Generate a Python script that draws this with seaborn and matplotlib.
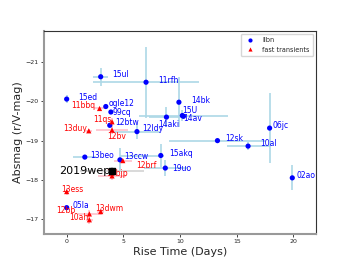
import pandas as pd
import seaborn as sns
import matplotlib.pyplot as plt

# llbn sample
lbn_names = ['15ul', '11rfh', '15ed', 'ogle12', '99cq', '12btw', '14aki', '12ldy', '14bk', '15U',
             '14av', '06jc', '12sk', '10al', '13beo', '13ccw', '15akq', '19uo', '02ao', '05la']
lbn_rise = [3.0, 7.0, 0.0, 3.45, 3.9, 3.8, 8.8, 6.2, 9.9, 10.2,
            10.3, 17.9, 13.3, 16.0, 1.6, 4.7, 8.3, 8.7, 19.9, 0.0]
lbn_mag = [-20.63, -20.49, -20.06, -19.87, -19.73, -19.39, -19.60, -19.23, -19.98, -19.64,
           -19.62, -19.32, -19.00, -18.86, -18.58, -18.51, -18.62, -18.30, -18.05, -17.29]
lbn_xlo = [0.65, 4.7, 0, 0, 0, 0, 1.5, 2.0, 0, 0, 3.9, 0, 4.3, 1.9, 1.0, 0, 3.6, 1.9, 0, 0]
lbn_xhi = [0.65, 4.7, 0, 0, 0, 0, 1.5, 2.0, 0, 0, 3.9, 0, 4.3, 1.9, 1.0, 0, 0.3, 1.9, 0, 0]
lbn_yerr = [0.23, 0.9, 0.1, 0, 0, 0, 0.26, 0.2, 0.64, 0.15, 0, 0.9, 0, 0.1, 0, 0.3, 0.3, 0.2, 0.32, 0.05]

# fast transients
ft_names = ['11bbq', '11qs', '13duy', '12bv', '12brf', '10bjp', '13ess', '12bb', '13dwm', '10ah']
ft_rise = [2.9, 4.0, 1.95, 4.0, 4.95, 4.0, 0.0, 2.0, 3.0, 2.0]
ft_mag = [-19.82, -19.48, -19.25, -19.27, -18.49, -18.10, -17.70, -17.13, -17.19, -16.98]
ft_xerr = [0.5, 0.2, 0.3, 1.4, 0.8, 1.2, 0, 1.0, 0.3, 0.3]
ft_yerr = [0.05, 0.1, 0.05, 0.1, 0.05, 0.1, 0.1, 0.1, 0.1, 0.1]

# SN 2019wep
wep_rise = [4.0]
wep_mag = [-18.23]
wep_xerr = [2.8]
wep_yerr = [0.1]

# label offsets in pixels (dx, dy up, ha)
lbn_off = [(12, 2, 'left'), (12, 2, 'left'), (12, 2, 'left'), (3, 3, 'left'), (2, 0, 'left'),
           (5, 3, 'left'), (-8, -7, 'left'), (5, 3, 'left'), (12, 2, 'left'), (0, 5, 'left'),
           (0, -2, 'left'), (3, 3, 'left'), (8, 2, 'left'), (12, 3, 'left'), (5, 2, 'left'),
           (4, 3, 'left'), (8, 2, 'left'), (7, 0, 'left'), (4, 2, 'left'), (6, 2, 'left')]
ft_off = [(-4, 3, 'right'), (0, 2, 'right'), (-2, 2, 'right'), (-5, -6, 'left'), (13, -5, 'left'),
          (-6, 2, 'left'), (-5, 2, 'left'), (-14, 3, 'right'), (-5, 3, 'left'), (-1, 2, 'right')]

sns.set_style('ticks')
fig, ax = plt.subplots(figsize=(3.52, 2.64), dpi=100)
fig.subplots_adjust(left=0.125, right=0.898, top=0.883, bottom=0.114)

ax.errorbar(lbn_rise, lbn_mag, xerr=[lbn_xlo, lbn_xhi], yerr=lbn_yerr, fmt='none',
            ecolor='lightblue', elinewidth=1.2, zorder=1)
ax.errorbar(ft_rise, ft_mag, xerr=ft_xerr, yerr=ft_yerr, fmt='none',
            ecolor='pink', elinewidth=1.2, zorder=1)
ax.errorbar(wep_rise, wep_mag, xerr=wep_xerr, yerr=wep_yerr, fmt='none',
            ecolor='lightgray', elinewidth=1.2, zorder=1)

df = pd.DataFrame({'rise': lbn_rise + ft_rise, 'mag': lbn_mag + ft_mag,
                   'group': ['llbn'] * len(lbn_rise) + ['fast transients'] * len(ft_rise)})
sns.scatterplot(data=df, x='rise', y='mag', hue='group', style='group',
                markers={'llbn': 'o', 'fast transients': '^'},
                palette={'llbn': 'blue', 'fast transients': 'red'},
                s=14, linewidth=0, ax=ax, zorder=3)
ax.scatter(wep_rise, wep_mag, marker='s', color='black', s=22, zorder=4)

for n, x, y, o in zip(lbn_names, lbn_rise, lbn_mag, lbn_off):
    ax.annotate(n, (x, y), xytext=(o[0], o[1]), textcoords='offset pixels',
                ha=o[2], va='center', color='blue', fontsize=5.5)
for n, x, y, o in zip(ft_names, ft_rise, ft_mag, ft_off):
    ax.annotate(n, (x, y), xytext=(o[0], o[1]), textcoords='offset pixels',
                ha=o[2], va='center', color='red', fontsize=5.5)
ax.annotate('2019wep', (wep_rise[0], wep_mag[0]), xytext=(-2, 0), textcoords='offset pixels',
            ha='right', va='center', color='black', fontsize=8)

ax.set_xlim(-2, 22)
ax.set_ylim(-16.62, -21.8)
ax.set_xticks([0, 5, 10, 15, 20])
ax.set_yticks([-21, -20, -19, -18, -17])
ax.tick_params(labelsize=4.5, length=2, width=0.6, pad=2)
ax.set_xlabel('Rise Time (Days)', fontsize=8, labelpad=2)
ax.set_ylabel('Absmag (r/V-mag)', fontsize=8, labelpad=2)

for s in ['left', 'bottom']:
    ax.spines[s].set_color('#999999')
    ax.spines[s].set_linewidth(1.5)
for s in ['top', 'right']:
    ax.spines[s].set_visible(True)
    ax.spines[s].set_color('#333333')
    ax.spines[s].set_linewidth(0.8)

ax.legend(loc='upper right', fontsize=4.7, markerscale=0.8, handletextpad=0.8,
          borderpad=0.5, frameon=True, title=None)
plt.savefig('out.png', dpi=100)
